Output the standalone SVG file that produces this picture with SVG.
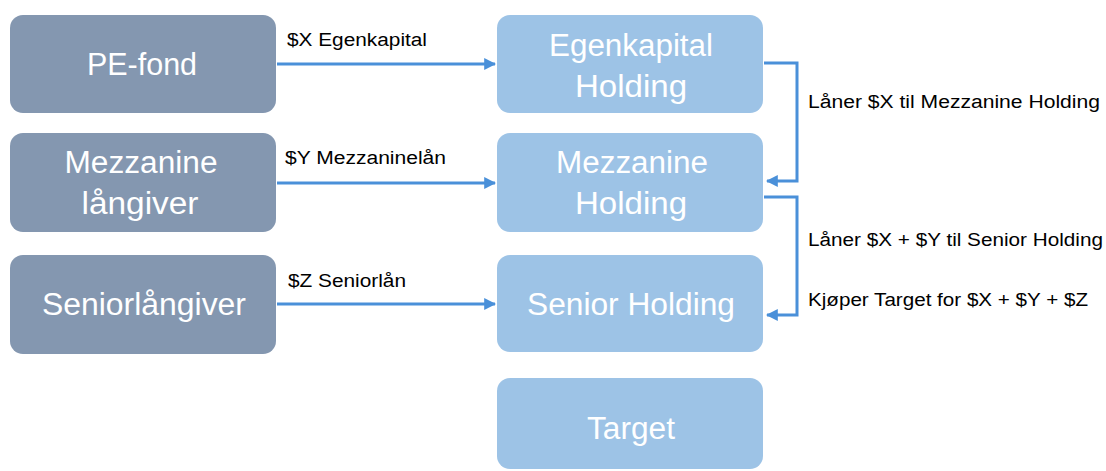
<svg xmlns="http://www.w3.org/2000/svg" width="1106" height="471" viewBox="0 0 1106 471">
<defs>
<style>
.src{fill:#8497B0}
.dst{fill:#9DC3E6}
.nt{fill:#fff;font-family:"Liberation Sans",Arial,sans-serif;font-size:31px;text-anchor:middle}
.lb{fill:#000;font-family:"Liberation Sans",Arial,sans-serif;font-size:18px}
.cn{fill:none;stroke:#4A90D9;stroke-width:3}
</style>
<marker id="ah" viewBox="0 0 10 10" refX="9" refY="5" markerWidth="4" markerHeight="4" orient="auto" markerUnits="strokeWidth">
<path d="M0,0 L10,5 L0,10 z" fill="#4A90D9"/>
</marker>
</defs>
<rect width="1106" height="471" fill="#fff"/>
<g id="pe-fond"><rect class="src" x="10" y="15" width="266" height="98" rx="13"/><text class="nt" x="142" y="75" textLength="110" lengthAdjust="spacingAndGlyphs">PE-fond</text></g>
<g id="mezz-langiver"><rect class="src" x="10" y="133" width="266" height="99" rx="13"/><text class="nt" x="141" y="173" textLength="153" lengthAdjust="spacingAndGlyphs">Mezzanine</text><text class="nt" x="140" y="214" textLength="117" lengthAdjust="spacingAndGlyphs">långiver</text></g>
<g id="senior-langiver"><rect class="src" x="10" y="255" width="266" height="99" rx="13"/><text class="nt" x="144" y="315" textLength="204" lengthAdjust="spacingAndGlyphs">Seniorlångiver</text></g>
<g id="egenkapital-holding"><rect class="dst" x="497" y="15" width="266" height="98" rx="13"/><text class="nt" x="631" y="56" textLength="164" lengthAdjust="spacingAndGlyphs">Egenkapital</text><text class="nt" x="631" y="97" textLength="112" lengthAdjust="spacingAndGlyphs">Holding</text></g>
<g id="mezz-holding"><rect class="dst" x="497" y="133" width="266" height="99" rx="13"/><text class="nt" x="632" y="173" textLength="152" lengthAdjust="spacingAndGlyphs">Mezzanine</text><text class="nt" x="631" y="214" textLength="112" lengthAdjust="spacingAndGlyphs">Holding</text></g>
<g id="senior-holding"><rect class="dst" x="497" y="255" width="266" height="97" rx="13"/><text class="nt" x="631" y="315" textLength="208" lengthAdjust="spacingAndGlyphs">Senior Holding</text></g>
<g id="target"><rect class="dst" x="497" y="378" width="266" height="91" rx="13"/><text class="nt" x="631" y="439" textLength="88" lengthAdjust="spacingAndGlyphs">Target</text></g>
<g id="connectors">
<path class="cn" d="M277,64 H495" marker-end="url(#ah)"/>
<path class="cn" d="M277,183 H495" marker-end="url(#ah)"/>
<path class="cn" d="M277,304 H495" marker-end="url(#ah)"/>
<path class="cn" d="M764,63 H797 V181 H767" marker-end="url(#ah)"/>
<path class="cn" d="M764,197 H797 V315 H767" marker-end="url(#ah)"/>
<text class="lb" x="287" y="46" textLength="140" lengthAdjust="spacingAndGlyphs">$X Egenkapital</text>
<text class="lb" x="285" y="164" textLength="161" lengthAdjust="spacingAndGlyphs">$Y Mezzaninelån</text>
<text class="lb" x="288" y="287" textLength="118" lengthAdjust="spacingAndGlyphs">$Z Seniorlån</text>
<text class="lb" x="808" y="108" textLength="292" lengthAdjust="spacingAndGlyphs">Låner $X til Mezzanine Holding</text>
<text class="lb" x="808" y="246" textLength="295" lengthAdjust="spacingAndGlyphs">Låner $X + $Y til Senior Holding</text>
<text class="lb" x="808" y="306" textLength="280" lengthAdjust="spacingAndGlyphs">Kjøper Target for $X + $Y + $Z</text>
</g>
</svg>
